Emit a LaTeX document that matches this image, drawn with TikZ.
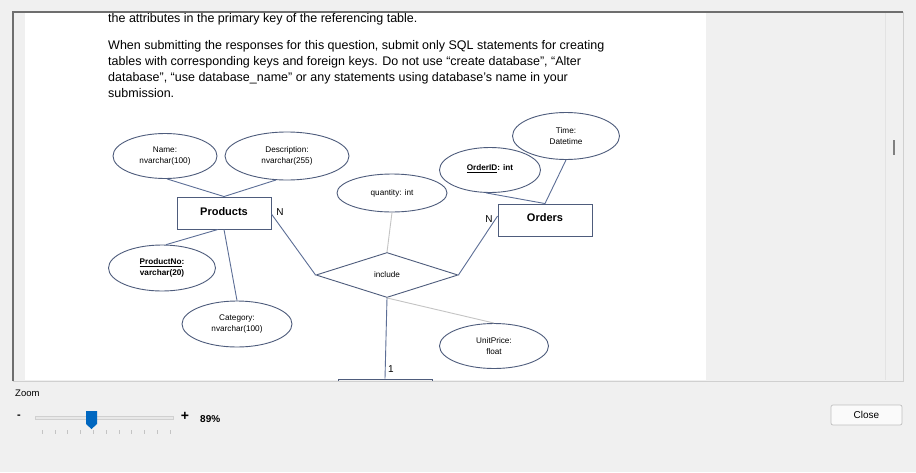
\documentclass[tikz,border=0pt]{standalone}
\usepackage{fontspec}
\setmainfont{Liberation Sans}
\usetikzlibrary{shapes.geometric,calc}
\definecolor{erl}{RGB}{78,92,124}
\definecolor{lnk}{RGB}{92,110,150}
\definecolor{lgr}{RGB}{196,196,196}
\definecolor{winbg}{RGB}{240,240,240}
\definecolor{frdark}{RGB}{110,110,110}
\definecolor{frlight}{RGB}{208,208,208}
\definecolor{thumbblue}{RGB}{0,103,192}
\begin{document}
\begin{tikzpicture}[x=1pt,y=-1pt,
  attr/.style={ellipse, draw=erl, line width=0.9pt, inner sep=0pt, align=center, font=\fontsize{8.2}{11}\selectfont},
  ent/.style={rectangle, draw=erl, line width=0.9pt, inner sep=0pt, font=\bfseries\fontsize{11}{13}\selectfont},
  link/.style={draw=lnk, line width=0.9pt},
  faint/.style={draw=lgr, line width=0.9pt},
  body/.style={anchor=base west, inner sep=0pt, font=\fontsize{12.5}{16}\selectfont},
  card/.style={inner sep=0pt, font=\fontsize{10}{12}\selectfont},
  ui/.style={inner sep=0pt, font=\fontsize{9.5}{11}\selectfont}
]
\useasboundingbox (0,0) rectangle (916,472);
\fill[winbg] (0,0) rectangle (916,472);
% page
\fill[white] (25,13) rectangle (706,380);
% frame
\draw[frlight, line width=0.8pt] (903,12) -- (903,381) -- (13,381);
\draw[frlight!60, line width=0.6pt] (885,13) -- (885,380);
\draw[frdark, line width=1.4pt] (13,381) -- (13,12) -- (903,12);
\draw[gray, line width=1.6pt] (894,140) -- (894,155);

% body text
\node[body] (t1) at (108,22) {the attributes in the primary key of the referencing table.};
\node[body] (t2) at (108,49) {When submitting the responses for this question, submit only SQL statements for creating};
\node[body] (t3) at (108,65) {tables with corresponding keys and foreign keys. Do not use “create database”, “Alter};
\node[body] (t4) at (108,81) {database”, “use database\_name” or any statements using database’s name in your};
\node[body] (t5) at (108,97) {submission.};

% diagram
\begin{scope}
\clip (25,13) rectangle (706,380);
\node[attr, minimum width=104pt, minimum height=45pt] (name) at (165,156) {Name:\\nvarchar(100)};
\node[attr, minimum width=124pt, minimum height=48pt] (desc) at (287,156) {Description:\\nvarchar(255)};
\node[ent, minimum width=94pt, minimum height=32pt] (prod) at (224,213) {\raisebox{2pt}{Products}};
\node[attr, minimum width=107pt, minimum height=46pt] (prodno) at (162,268) {\textbf{\underline{ProductNo}:}\\\textbf{varchar(20)}};
\node[attr, minimum width=110pt, minimum height=46pt] (cat) at (237,324) {Category:\\nvarchar(100)};
\node[attr, minimum width=110pt, minimum height=38pt] (qty) at (392,193) {quantity: int};
\node[diamond, draw=erl, line width=0.9pt, inner sep=0pt, minimum width=142pt, minimum height=45pt, font=\fontsize{8.2}{10}\selectfont] (inc) at (387,275) {include};
\node[attr, minimum width=101pt, minimum height=45pt] (oid) at (490,170) {\raisebox{4pt}{\textbf{\underline{OrderID}: int}}};
\node[attr, minimum width=107pt, minimum height=47pt] (time) at (566,136) {Time:\\Datetime};
\node[ent, minimum width=94pt, minimum height=32pt] (ord) at (545,220) {\raisebox{4pt}{Orders}};
\node[attr, minimum width=109pt, minimum height=45pt] (up) at (494,346) {UnitPrice:\\float};
\node[ent, minimum width=94pt, minimum height=32pt] (bot) at (385,395) {};

\draw[link] (name.-85) -- (prod.north);
\draw[link] (desc.245) -- (prod.north);
\draw[link] (prodno.80) -- ($(prod.south)+(-6,0)$);
\draw[link] (prod.south) -- (cat.north);
\draw[link] ($(prod.east)+(0,1)$) -- (inc.west);
\draw[faint] (qty.south) -- (inc.north);
\draw[link] (oid.-100) -- (ord.north);
\draw[link] (time.south) -- (ord.north);
\draw[link] ($(ord.west)+(0,-4)$) -- (inc.east);
\draw[faint] (inc.south) -- (up.north);
\draw[link] (inc.south) -- (bot.north);

\node[card] (n1) at (280,212) {N};
\node[card] (n2) at (489,219) {N};
\node[card] (one) at (391,369) {1};
\end{scope}

% bottom controls
\node[ui, anchor=west] (zoomlbl) at (15,393) {Zoom};
\node[inner sep=0pt, font=\bfseries\fontsize{11}{12}\selectfont] (minus) at (19,417) {-};
\draw[frlight, fill=black!9, line width=0.5pt] (35,416) rectangle (173,419);
\foreach \i in {0,...,10} { \draw[lgr, line width=0.6pt] ({42+12.8*\i},430) -- ({42+12.8*\i},434); }
\fill[thumbblue] (86,411) -- (97,411) -- (97,424) -- (91.5,429) -- (86,424) -- cycle;
\node[inner sep=0pt, font=\bfseries\fontsize{14}{14}\selectfont] (plus) at (185,416) {+};
\node[inner sep=0pt, anchor=west, font=\bfseries\fontsize{10}{12}\selectfont] (pct) at (200,419) {89\%};
\node[draw=black!25, fill=white!98!black, rounded corners=2pt, line width=0.7pt, minimum width=71pt, minimum height=20pt, inner sep=0pt, font=\fontsize{10}{12}\selectfont] (close) at (866.5,415) {Close};
\end{tikzpicture}
\end{document}
